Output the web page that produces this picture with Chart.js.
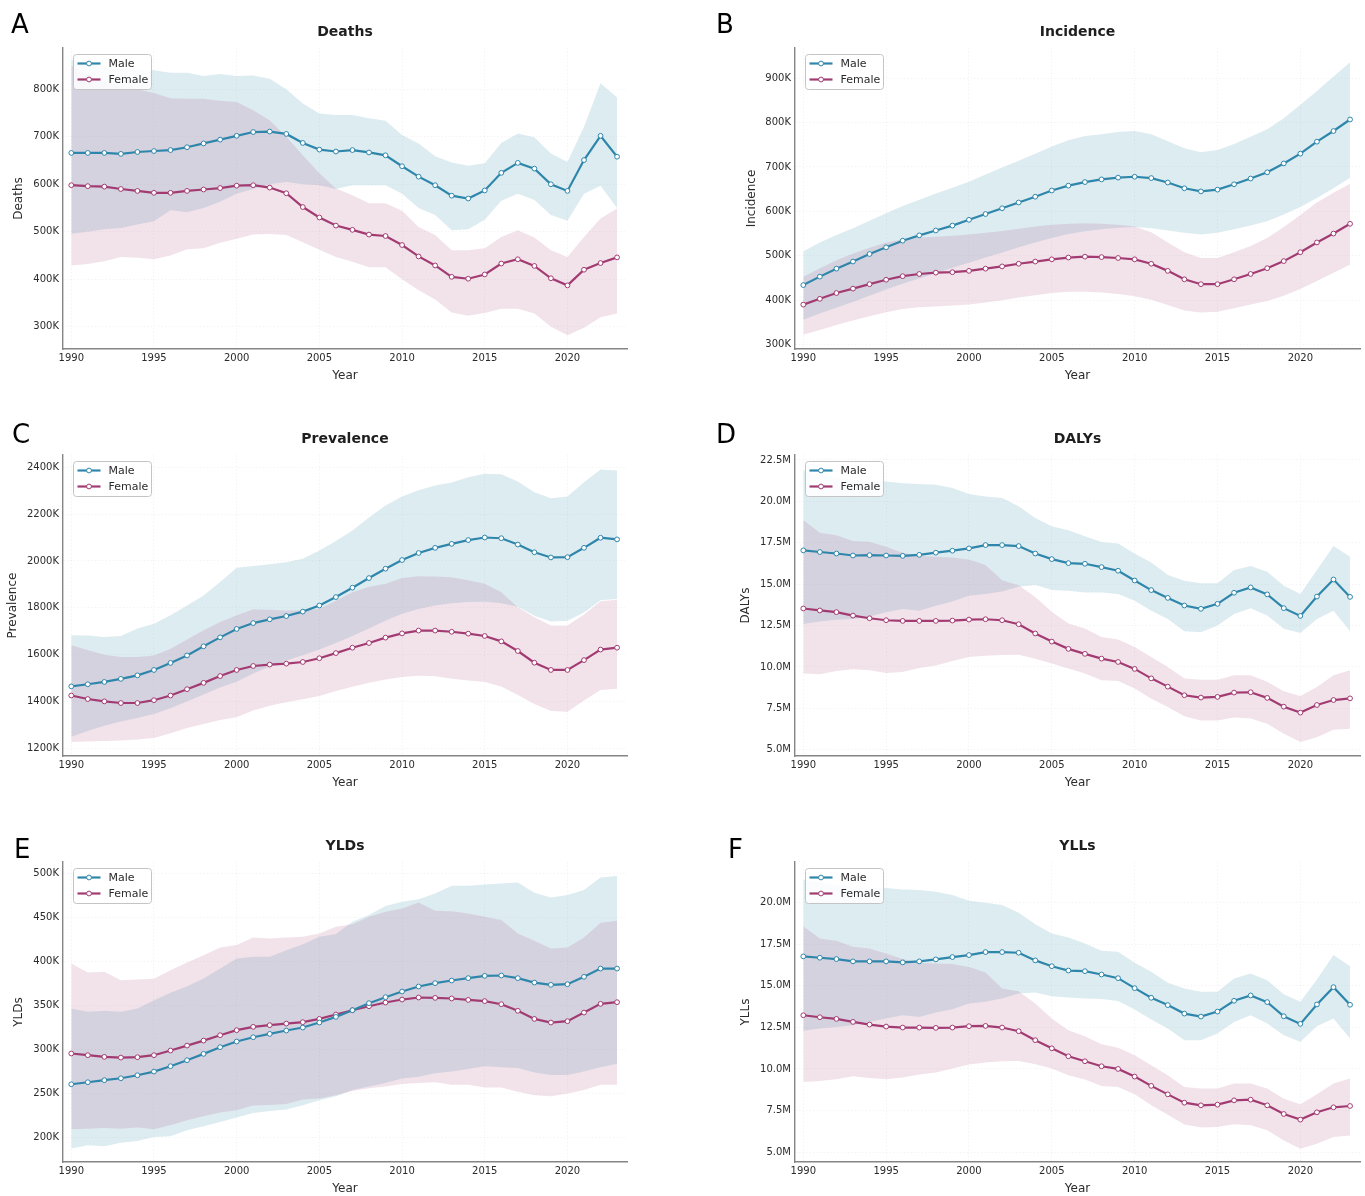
<!DOCTYPE html>
<html>
<head>
<meta charset="utf-8">
<title>Burden trends by sex, 1990–2023</title>
<script src="https://cdn.jsdelivr.net/npm/chart.js@4.4.1/dist/chart.umd.min.js"></script>
<style>
  html, body { margin: 0; padding: 0; background: #ffffff; }
  body { position: relative; width: 1365px; height: 1196px; overflow: hidden; }
  canvas { position: absolute; }
</style>
</head>
<body>
<script>
// ---- Years and axis ticks ----
const years = [1990, 1991, 1992, 1993, 1994, 1995, 1996, 1997, 1998, 1999,
               2000, 2001, 2002, 2003, 2004, 2005, 2006, 2007, 2008, 2009,
               2010, 2011, 2012, 2013, 2014, 2015, 2016, 2017, 2018, 2019,
               2020, 2021, 2022, 2023];
const yearTicks = [1990, 1995, 2000, 2005, 2010, 2015, 2020];

// ---- Deaths (thousands) ----
const deathsTicks = [300, 400, 500, 600, 700, 800];
const deathsMale = [666, 666, 666, 664, 668, 670, 672, 678, 686, 694,
                    702, 710, 711, 706, 687, 673, 669, 672, 667, 661,
                    638, 616, 598, 576, 570, 587, 624, 645, 633, 600,
                    586, 651, 702, 658];
const deathsMaleHigh = [862, 855, 848, 842, 840, 840, 835, 835, 828, 832,
                        828, 829, 822, 800, 770, 749, 746, 746, 739, 734,
                        704, 686, 659, 646, 639, 644, 687, 707, 699, 665,
                        647, 721, 813, 783];
const deathsMaleLow = [496, 500, 505, 508, 515, 522, 545, 541, 550, 563,
                       580, 590, 600, 605, 600, 598, 590, 598, 598, 598,
                       580, 550, 535, 503, 505, 525, 565, 580, 567, 535,
                       523, 580, 597, 550];
const deathsFemale = [598, 596, 595, 590, 586, 582, 582, 586, 589, 592,
                      597, 598, 593, 581, 552, 530, 513, 504, 494, 491,
                      472, 448, 429, 405, 401, 410, 433, 442, 428, 402,
                      387, 420, 434, 446];
const deathsFemaleHigh = [850, 830, 815, 808, 800, 792, 781, 780, 780, 776,
                          773, 756, 735, 700, 661, 623, 591, 577, 560, 560,
                          544, 510, 493, 461, 461, 465, 489, 503, 488, 461,
                          447, 489, 528, 549];
const deathsFemaleLow = [429, 432, 438, 447, 445, 442, 450, 463, 465, 477,
                         485, 494, 495, 493, 478, 462, 447, 437, 425, 425,
                         400, 377, 357, 330, 323, 329, 338, 338, 328, 300,
                         282, 298, 320, 328];

// ---- Incidence (thousands) ----
const incidenceTicks = [300, 400, 500, 600, 700, 800, 900];
const incidenceMale = [434, 453, 471, 487, 504, 519, 534, 546, 557, 568,
                       581, 594, 607, 620, 633, 647, 658, 666, 672, 676,
                       678, 675, 665, 652, 645, 649, 661, 674, 688, 708,
                       730, 757, 781, 807];
const incidenceMaleHigh = [510, 530, 547, 562, 579, 596, 612, 626, 640, 653,
                           667, 683, 699, 714, 730, 746, 760, 770, 774, 779,
                           781, 774, 758, 742, 733, 738, 752, 768, 785, 810,
                           840, 871, 904, 936];
const incidenceMaleLow = [356, 370, 383, 396, 410, 424, 437, 449, 461, 473,
                          484, 496, 507, 519, 530, 540, 549, 555, 560, 563,
                          565, 562, 557, 552, 548, 552, 560, 568, 578, 593,
                          610, 630, 652, 676];
const incidenceFemale = [390, 403, 416, 426, 436, 446, 454, 459, 462, 463,
                         466, 471, 476, 482, 487, 492, 496, 498, 497, 495,
                         492, 482, 466, 447, 436, 436, 447, 459, 472, 488,
                         508, 530, 550, 572];
const incidenceFemaleHigh = [453, 472, 490, 505, 518, 530, 537, 541, 543, 545,
                             548, 552, 556, 561, 566, 570, 572, 573, 572, 570,
                             566, 553, 530, 508, 495, 495, 508, 522, 540, 565,
                             592, 620, 642, 662];
const incidenceFemaleLow = [322, 333, 344, 354, 364, 373, 380, 384, 386, 388,
                            390, 395, 400, 406, 411, 416, 419, 419, 417, 414,
                            409, 401, 389, 377, 372, 374, 382, 390, 398, 410,
                            425, 443, 462, 480];

// ---- Prevalence (thousands) ----
const prevalenceTicks = [1200, 1400, 1600, 1800, 2000, 2200, 2400];
const prevalenceMale = [1465, 1474, 1484, 1497, 1512, 1535, 1565, 1597, 1636, 1674,
                        1710, 1735, 1751, 1765, 1784, 1810, 1846, 1886, 1927, 1967,
                        2004, 2034, 2056, 2073, 2089, 2100, 2097, 2070, 2037, 2015,
                        2016, 2056, 2099, 2092];
const prevalenceMaleHigh = [1683, 1682, 1676, 1680, 1712, 1732, 1768, 1810, 1853, 1910,
                            1971, 1978, 1986, 1995, 2009, 2045, 2085, 2130, 2185, 2237,
                            2275, 2302, 2322, 2335, 2357, 2372, 2370, 2339, 2293, 2268,
                            2275, 2336, 2390, 2386];
const prevalenceMaleLow = [1250, 1275, 1297, 1315, 1330, 1347, 1372, 1400, 1430, 1460,
                           1485, 1520, 1550, 1575, 1598, 1622, 1650, 1680, 1712, 1745,
                           1775, 1795, 1810, 1820, 1825, 1826, 1820, 1805, 1766, 1742,
                           1745, 1780, 1832, 1838];
const prevalenceFemale = [1426, 1411, 1401, 1394, 1394, 1406, 1426, 1453, 1480, 1509,
                          1535, 1552, 1558, 1562, 1569, 1585, 1607, 1630, 1650, 1673,
                          1691, 1703, 1703, 1698, 1690, 1680, 1657, 1616, 1566, 1535,
                          1535, 1577, 1622, 1630];
const prevalenceFemaleHigh = [1640, 1620, 1600, 1590, 1590, 1597, 1625, 1665, 1704, 1740,
                              1768, 1794, 1792, 1789, 1790, 1796, 1830, 1867, 1890, 1903,
                              1927, 1935, 1934, 1931, 1918, 1903, 1867, 1803, 1760, 1725,
                              1725, 1772, 1828, 1835];
const prevalenceFemaleLow = [1228, 1230, 1232, 1234, 1238, 1245, 1265, 1287, 1305, 1322,
                             1333, 1362, 1382, 1397, 1410, 1424, 1445, 1463, 1480, 1494,
                             1505, 1510, 1508, 1498, 1490, 1484, 1465, 1428, 1390, 1360,
                             1357, 1405, 1450, 1455];

// ---- DALYs (millions) ----
const dalysTicks = [5.0, 7.5, 10.0, 12.5, 15.0, 17.5, 20.0, 22.5];
const dalysMale = [17.04, 16.94, 16.85, 16.73, 16.75, 16.73, 16.71, 16.77, 16.90, 17.02,
                   17.16, 17.36, 17.36, 17.30, 16.85, 16.51, 16.27, 16.23, 16.03, 15.81,
                   15.22, 14.64, 14.17, 13.71, 13.51, 13.81, 14.48, 14.80, 14.38, 13.55,
                   13.08, 14.25, 15.28, 14.23];
const dalysMaleHigh = [21.9, 21.6, 21.4, 21.3, 21.25, 21.2, 21.1, 21.05, 21.0, 20.8,
                       20.45, 20.3, 20.2, 19.7, 19.0, 18.5, 18.25, 17.9, 17.55, 17.45,
                       16.85, 16.3, 15.55, 15.2, 15.05, 15.05, 15.85, 16.1, 15.75, 14.9,
                       14.4, 15.85, 17.3, 16.65];
const dalysMaleLow = [12.6, 12.75, 12.85, 12.9, 13.05, 13.3, 13.5, 13.4, 13.7, 13.95,
                      14.3, 14.4, 14.55, 14.85, 14.95, 14.65, 14.6, 14.5, 14.5, 14.4,
                      14.0, 13.4, 12.9, 12.15, 12.1, 12.5, 13.2, 13.55, 13.1, 12.3,
                      12.05, 12.9, 13.4, 12.15];
const dalysFemale = [13.53, 13.41, 13.31, 13.10, 12.94, 12.82, 12.78, 12.78, 12.78, 12.80,
                     12.86, 12.88, 12.82, 12.58, 12.02, 11.53, 11.09, 10.79, 10.50, 10.30,
                     9.88, 9.31, 8.81, 8.29, 8.15, 8.19, 8.45, 8.47, 8.13, 7.60,
                     7.24, 7.70, 8.00, 8.10];
const dalysFemaleHigh = [18.87, 18.1, 17.96, 17.6, 17.56, 17.26, 16.9, 16.71, 16.65, 16.61,
                         16.49, 16.15, 15.24, 14.94, 14.23, 13.33, 12.62, 12.32, 11.81, 11.65,
                         11.21, 10.6, 10.0, 9.3, 9.23, 9.23, 9.5, 9.5, 9.1, 8.53,
                         8.25, 8.79, 9.5, 9.8];
const dalysFemaleLow = [9.6, 9.56, 9.76, 9.86, 9.8, 9.64, 9.7, 9.94, 10.08, 10.36,
                        10.6, 10.67, 10.72, 10.74, 10.5, 10.2, 9.9, 9.6, 9.19, 9.15,
                        8.69, 8.08, 7.58, 7.02, 6.77, 6.77, 6.94, 6.88, 6.57, 5.97,
                        5.46, 5.76, 6.21, 6.27];

// ---- YLDs (thousands) ----
const yldsTicks = [200, 250, 300, 350, 400, 450, 500];
const yldsMale = [260.6, 262.9, 265.2, 267.4, 270.8, 275.0, 281.1, 287.9, 295.1, 302.7,
                  309.1, 314.0, 317.8, 321.6, 325.0, 330.7, 337.1, 344.7, 352.7, 359.5,
                  365.9, 371.6, 375.4, 378.4, 381.1, 383.7, 384.1, 381.1, 376.1, 373.5,
                  374.2, 382.6, 392.0, 392.0];
const yldsMaleHigh = [346.6, 342.8, 344.0, 342.8, 346.6, 356.0, 364.4, 372.0, 380.7, 392.0,
                      403.4, 405.3, 405.3, 412.9, 419.7, 428.0, 431.1, 445.1, 452.7, 462.9,
                      467.8, 470.8, 477.3, 486.0, 486.0, 487.5, 488.6, 489.8, 478.0, 472.7,
                      475.4, 481.1, 495.5, 497.0];
const yldsMaleLow = [187.5, 191.3, 190.2, 194.3, 196.2, 200.8, 201.5, 208.3, 212.9, 217.8,
                     222.7, 228.0, 230.3, 231.8, 236.7, 242.4, 247.0, 254.0, 258.0, 262.0,
                     267.0, 269.0, 273.0, 275.0, 278.0, 281.0, 280.0, 279.0, 274.0, 271.0,
                     271.0, 275.0, 280.0, 284.0];
const yldsFemale = [295.5, 293.6, 291.7, 290.9, 291.3, 293.6, 298.9, 304.5, 310.2, 316.3,
                    322.0, 325.8, 327.7, 329.5, 331.1, 334.8, 339.8, 344.7, 349.2, 353.4,
                    356.8, 359.1, 358.7, 358.0, 356.4, 355.0, 351.5, 344.0, 334.8, 330.7,
                    332.2, 342.0, 351.9, 353.8];
const yldsFemaleHigh = [397.7, 387.5, 388.3, 378.8, 379.5, 380.3, 390.2, 398.9, 407.2, 415.9,
                        418.6, 427.3, 426.1, 427.3, 428.0, 431.8, 439.4, 442.4, 450.8, 456.4,
                        460.2, 467.0, 457.6, 457.2, 454.5, 450.8, 447.0, 431.8, 423.5, 414.8,
                        415.9, 427.3, 443.9, 446.2];
const yldsFemaleLow = [209.5, 210.2, 211.0, 210.2, 211.4, 209.5, 214.0, 219.7, 224.2, 228.4,
                       231.1, 236.4, 237.1, 238.3, 243.2, 244.3, 248.0, 253.0, 256.0, 258.0,
                       261.0, 262.0, 263.0, 260.0, 260.0, 257.0, 257.0, 252.0, 248.0, 247.0,
                       250.0, 254.0, 260.0, 260.0];

// ---- YLLs (millions) ----
const yllsTicks = [5.0, 7.5, 10.0, 12.5, 15.0, 17.5, 20.0];
const yllsMale = [16.77, 16.69, 16.61, 16.47, 16.47, 16.47, 16.41, 16.47, 16.59, 16.73,
                  16.85, 17.03, 17.03, 16.99, 16.53, 16.18, 15.92, 15.88, 15.68, 15.46,
                  14.86, 14.28, 13.84, 13.33, 13.15, 13.45, 14.10, 14.42, 14.02, 13.17,
                  12.71, 13.88, 14.92, 13.86];
const yllsMaleHigh = [21.4, 21.2, 21.05, 20.95, 20.9, 20.88, 20.8, 20.76, 20.66, 20.46,
                      20.12, 20.0, 19.86, 19.4, 18.71, 18.15, 17.91, 17.55, 17.11, 17.05,
                      16.39, 15.84, 15.18, 14.84, 14.64, 14.64, 15.44, 15.74, 15.34, 14.5,
                      14.04, 15.38, 16.85, 16.18];
const yllsMaleLow = [12.29, 12.43, 12.53, 12.63, 12.83, 13.03, 13.23, 13.13, 13.39, 13.59,
                     13.94, 14.04, 14.24, 14.54, 14.6, 14.38, 14.3, 14.24, 14.2, 14.08,
                     13.57, 12.97, 12.43, 11.73, 11.73, 12.13, 12.83, 13.23, 12.73, 12.03,
                     11.63, 12.57, 13.03, 11.83];
const yllsFemale = [13.23, 13.11, 13.01, 12.83, 12.67, 12.55, 12.49, 12.49, 12.47, 12.49,
                    12.57, 12.59, 12.49, 12.27, 11.73, 11.24, 10.76, 10.46, 10.16, 10.00,
                    9.54, 8.98, 8.47, 7.97, 7.81, 7.85, 8.11, 8.15, 7.81, 7.29,
                    6.95, 7.39, 7.69, 7.77];
const yllsFemaleHigh = [18.59, 17.85, 17.71, 17.35, 17.25, 16.95, 16.61, 16.39, 16.35, 16.31,
                        16.14, 15.8, 14.84, 14.68, 13.94, 13.03, 12.33, 11.97, 11.49, 11.27,
                        10.82, 10.22, 9.62, 8.92, 8.82, 8.82, 9.12, 9.12, 8.82, 8.21,
                        7.87, 8.47, 9.12, 9.42];
const yllsFemaleLow = [9.22, 9.28, 9.38, 9.56, 9.46, 9.38, 9.48, 9.66, 9.78, 10.02,
                       10.26, 10.38, 10.46, 10.48, 10.28, 10.02, 9.62, 9.36, 8.98, 8.92,
                       8.47, 7.81, 7.25, 6.65, 6.47, 6.51, 6.67, 6.61, 6.31, 5.70,
                       5.20, 5.50, 5.90, 6.00];

// ---- Styling ----
const FONT = '"DejaVu Sans", "Liberation Sans", sans-serif';
const MALE = '#2E86AB';
const FEMALE = '#A23B72';
const MALE_BAND = 'rgba(46, 134, 171, 0.16)';
const FEMALE_BAND = 'rgba(162, 59, 114, 0.14)';
const GRID = 'rgba(0, 0, 0, 0.045)';
const TEXT = '#2b2b2b';

Chart.defaults.font.family = FONT;

const fmtK = v => v + 'K';
const fmtM = v => v.toFixed(1) + 'M';

// Panel layout: plot-area box in page pixels, column and text placement
const panels = [
  { letter: 'A', title: 'Deaths', yTitle: 'Deaths', fmt: fmtK, ticks: deathsTicks, yMin: 253, yMax: 887,
    series: [deathsMale, deathsMaleLow, deathsMaleHigh, deathsFemale, deathsFemaleLow, deathsFemaleHigh],
    col: 0, box: { left: 63, top: 48, right: 627, bottom: 349 }, letterPos: [11, 33], yTitleX: 19 },
  { letter: 'B', title: 'Incidence', yTitle: 'Incidence', fmt: fmtK, ticks: incidenceTicks, yMin: 290, yMax: 968,
    series: [incidenceMale, incidenceMaleLow, incidenceMaleHigh, incidenceFemale, incidenceFemaleLow, incidenceFemaleHigh],
    col: 1, box: { left: 795, top: 48, right: 1360, bottom: 349 }, letterPos: [716, 33], yTitleX: 752 },
  { letter: 'C', title: 'Prevalence', yTitle: 'Prevalence', fmt: fmtK, ticks: prevalenceTicks, yMin: 1168, yMax: 2452,
    series: [prevalenceMale, prevalenceMaleLow, prevalenceMaleHigh, prevalenceFemale, prevalenceFemaleLow, prevalenceFemaleHigh],
    col: 0, box: { left: 63, top: 455, right: 627, bottom: 756 }, letterPos: [12, 443], yTitleX: 13 },
  { letter: 'D', title: 'DALYs', yTitle: 'DALYs', fmt: fmtM, ticks: dalysTicks, yMin: 4.62, yMax: 22.8,
    series: [dalysMale, dalysMaleLow, dalysMaleHigh, dalysFemale, dalysFemaleLow, dalysFemaleHigh],
    col: 1, box: { left: 795, top: 455, right: 1360, bottom: 756 }, letterPos: [716, 443], yTitleX: 746 },
  { letter: 'E', title: 'YLDs', yTitle: 'YLDs', fmt: fmtK, ticks: yldsTicks, yMin: 172.3, yMax: 513,
    series: [yldsMale, yldsMaleLow, yldsMaleHigh, yldsFemale, yldsFemaleLow, yldsFemaleHigh],
    col: 0, box: { left: 63, top: 862, right: 627, bottom: 1162 }, letterPos: [14, 858], yTitleX: 19 },
  { letter: 'F', title: 'YLLs', yTitle: 'YLLs', fmt: fmtM, ticks: yllsTicks, yMin: 4.4, yMax: 22.45,
    series: [yllsMale, yllsMaleLow, yllsMaleHigh, yllsFemale, yllsFemaleLow, yllsFemaleHigh],
    col: 1, box: { left: 795, top: 862, right: 1360, bottom: 1162 }, letterPos: [728, 858], yTitleX: 746 }
];

const COL_LEFT = [0, 683];
const COL_WIDTH = [683, 682];
const TOP_SPACE = 48;
const X_AXIS_H = 36;

const toPoints = arr => years.map((x, i) => ({ x: x, y: arr[i] }));

// Panel letter, bold title and the in-plot legend box
const panelDecor = {
  id: 'panelDecor',
  afterDraw(chart, args, opts) {
    const ctx = chart.ctx;
    const a = chart.chartArea;
    ctx.save();

    ctx.fillStyle = '#000';
    ctx.font = '26px ' + FONT;
    ctx.textAlign = 'left';
    ctx.textBaseline = 'alphabetic';
    ctx.fillText(opts.letter, opts.letterX, opts.letterY);

    ctx.fillStyle = '#1e1e1e';
    ctx.font = 'bold 14px ' + FONT;
    ctx.textAlign = 'center';
    ctx.textBaseline = 'middle';
    ctx.fillText(opts.title, (a.left + a.right) / 2, a.top - 16);

    const bx = a.left + 10.5, by = a.top + 6.5, bw = 78, bh = 35, r = 3;
    ctx.beginPath();
    ctx.moveTo(bx + r, by);
    ctx.lineTo(bx + bw - r, by);
    ctx.quadraticCurveTo(bx + bw, by, bx + bw, by + r);
    ctx.lineTo(bx + bw, by + bh - r);
    ctx.quadraticCurveTo(bx + bw, by + bh, bx + bw - r, by + bh);
    ctx.lineTo(bx + r, by + bh);
    ctx.quadraticCurveTo(bx, by + bh, bx, by + bh - r);
    ctx.lineTo(bx, by + r);
    ctx.quadraticCurveTo(bx, by, bx + r, by);
    ctx.closePath();
    ctx.fillStyle = 'rgba(255,255,255,0.85)';
    ctx.fill();
    ctx.strokeStyle = '#c4c4c4';
    ctx.lineWidth = 1;
    ctx.stroke();

    const rows = [['Male', MALE], ['Female', FEMALE]];
    rows.forEach((row, i) => {
      const y = by + 9 + i * 16;
      ctx.strokeStyle = row[1];
      ctx.lineWidth = 2.2;
      ctx.beginPath();
      ctx.moveTo(bx + 4, y);
      ctx.lineTo(bx + 27, y);
      ctx.stroke();
      ctx.beginPath();
      ctx.arc(bx + 15.5, y, 2.4, 0, Math.PI * 2);
      ctx.fillStyle = '#fff';
      ctx.fill();
      ctx.lineWidth = 1;
      ctx.stroke();
      ctx.fillStyle = TEXT;
      ctx.font = '11px ' + FONT;
      ctx.textAlign = 'left';
      ctx.textBaseline = 'middle';
      ctx.fillText(row[0], bx + 35, y + 0.5);
    });
    ctx.restore();
  }
};

function bandSet(arr, color, fillTarget, order) {
  return {
    data: toPoints(arr),
    borderWidth: 0,
    borderColor: 'transparent',
    backgroundColor: color,
    pointRadius: 0,
    fill: fillTarget,
    order: order,
    tension: 0
  };
}

function lineSet(arr, color) {
  return {
    data: toPoints(arr),
    borderColor: color,
    borderWidth: 2.2,
    pointRadius: 2.4,
    pointBorderWidth: 1,
    pointBackgroundColor: '#ffffff',
    pointBorderColor: color,
    fill: false,
    order: 0,
    tension: 0
  };
}

panels.forEach(p => {
  const colLeft = COL_LEFT[p.col];
  const colWidth = COL_WIDTH[p.col];
  const top = p.box.top - TOP_SPACE;
  const height = p.box.bottom - top + X_AXIS_H;

  const canvas = document.createElement('canvas');
  canvas.width = colWidth;
  canvas.height = height;
  canvas.style.left = colLeft + 'px';
  canvas.style.top = top + 'px';
  canvas.style.width = colWidth + 'px';
  canvas.style.height = height + 'px';
  document.body.appendChild(canvas);

  const [m, mLow, mHigh, f, fLow, fHigh] = p.series;

  new Chart(canvas, {
    type: 'line',
    data: {
      datasets: [
        bandSet(mHigh, MALE_BAND, false, 2),   // 0
        bandSet(mLow, MALE_BAND, 0, 2),        // 1 -> fills to 0
        bandSet(fHigh, FEMALE_BAND, false, 1), // 2
        bandSet(fLow, FEMALE_BAND, 2, 1),      // 3 -> fills to 2
        lineSet(m, MALE),                      // 4
        lineSet(f, FEMALE)                     // 5
      ]
    },
    options: {
      responsive: false,
      animation: false,
      devicePixelRatio: 1,
      layout: { padding: { top: TOP_SPACE, right: colLeft + colWidth - p.box.right, left: 0, bottom: 0 } },
      plugins: {
        legend: { display: false },
        tooltip: { enabled: false },
        title: { display: false },
        panelDecor: {
          letter: p.letter,
          title: p.title,
          letterX: p.letterPos[0] - colLeft,
          letterY: p.letterPos[1] - top
        }
      },
      scales: {
        x: {
          type: 'linear',
          min: 1989.5,
          max: 2023.6,
          afterBuildTicks: s => { s.ticks = yearTicks.map(v => ({ value: v })); },
          afterFit: s => { s.height = X_AXIS_H; },
          ticks: {
            callback: v => String(v),
            autoSkip: false,
            maxRotation: 0,
            padding: 3,
            color: TEXT,
            font: { size: 10, family: FONT }
          },
          grid: { color: GRID, drawTicks: false, lineWidth: 1 },
          border: { display: true, color: '#858585', width: 1.4, dash: [1.5, 2] },
          title: {
            display: true,
            text: 'Year',
            color: TEXT,
            font: { size: 12, family: FONT },
            padding: { top: 0, bottom: 2 }
          }
        },
        y: {
          type: 'linear',
          min: p.yMin,
          max: p.yMax,
          afterBuildTicks: s => { s.ticks = p.ticks.map(v => ({ value: v })); },
          afterFit: s => { s.width = p.box.left - colLeft; },
          ticks: {
            callback: v => p.fmt(v),
            autoSkip: false,
            padding: 4,
            color: TEXT,
            font: { size: 10, family: FONT }
          },
          grid: { color: GRID, drawTicks: false, lineWidth: 1 },
          border: { display: true, color: '#858585', width: 1.4, dash: [1.5, 2] },
          title: {
            display: true,
            text: p.yTitle,
            color: TEXT,
            font: { size: 12, family: FONT },
            padding: { top: p.yTitleX - colLeft - 7.2, bottom: 0 }
          }
        }
      }
    },
    plugins: [panelDecor]
  });
});
</script>
</body>
</html>
